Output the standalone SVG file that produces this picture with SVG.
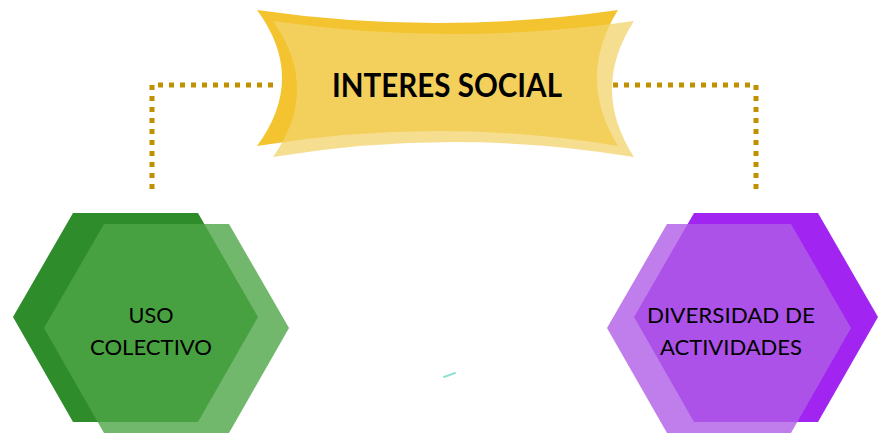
<svg xmlns="http://www.w3.org/2000/svg" width="881" height="434" viewBox="0 0 881 434">
<style>
.lbl{font-family:Lato,"Liberation Sans",sans-serif;font-size:21px;fill:#000;text-anchor:middle}
.title{font-family:Lato,"Liberation Sans",sans-serif;font-size:33px;font-weight:bold;fill:#000;text-anchor:middle}
.dots{fill:none;stroke:#BF9000;stroke-width:5;stroke-dasharray:5 6}
</style>
<rect width="881" height="434" fill="#fff"/>
<g id="connectors">
<path class="dots" d="M273,85 H152 V192"/>
<path class="dots" d="M613,85 H756 V192"/>
</g>
<g id="interes-social">
<path d="M257,10 Q437,36 618,10 Q576,78 618,146 Q437,116 257,146 Q307,78 257,10 Z" fill="#F4C430"/>
<path d="M273,21 Q453,47 634,21 Q590,89 634,157 Q453,127 273,157 Q321,89 273,21 Z" fill="#F3D36B" fill-opacity="0.75"/>
<text class="title" x="447" y="97" textLength="230" lengthAdjust="spacingAndGlyphs">INTERES SOCIAL</text>
</g>
<g id="uso-colectivo">
<polygon points="13,317 73,213 198,213 258,317 198,422 73,422" fill="#2F8C2A"/>
<polygon points="44,328 104,224 229,224 289,328 229,433 104,433" fill="#4FA647" fill-opacity="0.8"/>
<text class="lbl" x="151" y="323" textLength="45" lengthAdjust="spacingAndGlyphs">USO</text>
<text class="lbl" x="151" y="355" textLength="122" lengthAdjust="spacingAndGlyphs">COLECTIVO</text>
</g>
<g id="diversidad-de-actividades">
<polygon points="634,317 694,213 818,213 878,317 818,422 694,422" fill="#A224F0"/>
<polygon points="607,328 667,224 791,224 851,328 791,433 667,433" fill="#B05EE7" fill-opacity="0.8"/>
<text class="lbl" x="731" y="323" textLength="168" lengthAdjust="spacingAndGlyphs">DIVERSIDAD DE</text>
<text class="lbl" x="731" y="355" textLength="142" lengthAdjust="spacingAndGlyphs">ACTIVIDADES</text>
</g>
<path d="M444,377 L455,373" stroke="#8FE3D3" stroke-width="2" stroke-linecap="round"/>
</svg>
